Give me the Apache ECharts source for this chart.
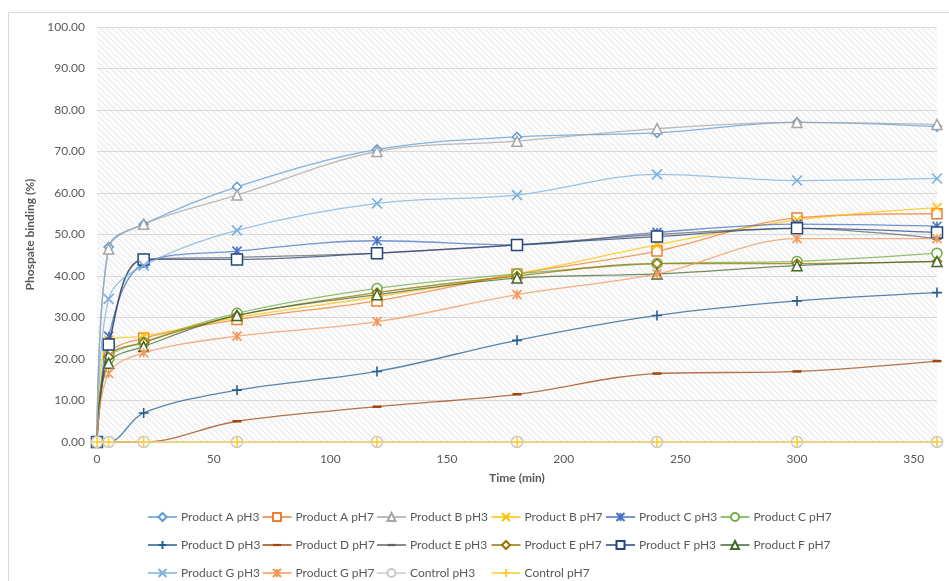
<!DOCTYPE html>
<html>
<head>
<meta charset="utf-8">
<style>
  html, body { margin: 0; padding: 0; background: #ffffff; }
  #chart { width: 949px; height: 581px; }
</style>
<script src="https://cdn.jsdelivr.net/npm/echarts@6/dist/echarts.min.js"></script>
</head>
<body>
<div id="chart"></div>
<script>
// Sampling times (min)
const times = [0, 5, 20, 60, 120, 180, 240, 300, 360];

// Phosphate binding (%) per product and pH
const productA_pH3 = [0, 47.0, 52.5, 61.5, 70.5, 73.5, 74.5, 77.0, 76.0];
const productA_pH7 = [0, 21.0, 25.0, 29.5, 34.0, 40.5, 46.0, 54.0, 55.0];
const productB_pH3 = [0, 46.5, 52.5, 59.5, 70.0, 72.5, 75.5, 77.0, 76.5];
const productB_pH7 = [0, 24.5, 25.5, 30.0, 35.0, 40.5, 47.5, 53.5, 56.5];
const productC_pH3 = [0, 25.5, 43.0, 46.0, 48.5, 47.5, 50.5, 52.5, 52.0];
const productC_pH7 = [0, 20.0, 24.0, 31.0, 37.0, 40.5, 43.0, 43.5, 45.5];
const productD_pH3 = [0, 0.0, 7.0, 12.5, 17.0, 24.5, 30.5, 34.0, 36.0];
const productD_pH7 = [0, 0.0, 0.0, 5.0, 8.5, 11.5, 16.5, 17.0, 19.5];
const productE_pH3 = [0, 23.0, 44.0, 44.5, 45.5, 47.5, 50.0, 51.5, 49.0];
const productE_pH7 = [0, 20.5, 24.0, 30.5, 36.0, 40.0, 43.0, 43.0, 43.5];
const productF_pH3 = [0, 23.5, 44.0, 44.0, 45.5, 47.5, 49.5, 51.5, 50.5];
const productF_pH7 = [0, 19.0, 23.0, 30.5, 35.5, 39.5, 40.5, 42.5, 43.5];
const productG_pH3 = [0, 34.5, 42.5, 51.0, 57.5, 59.5, 64.5, 63.0, 63.5];
const productG_pH7 = [0, 16.5, 21.5, 25.5, 29.0, 35.5, 40.5, 49.0, 49.0];
const control_pH3  = [0, 0, 0, 0, 0, 0, 0, 0, 0];
const control_pH7  = [0, 0, 0, 0, 0, 0, 0, 0, 0];

const seriesNames = [
  'Product A pH3', 'Product A pH7', 'Product B pH3', 'Product B pH7',
  'Product C pH3', 'Product C pH7', 'Product D pH3', 'Product D pH7',
  'Product E pH3', 'Product E pH7', 'Product F pH3', 'Product F pH7',
  'Product G pH3', 'Product G pH7', 'Control pH3', 'Control pH7'
];
const seriesValues = [
  productA_pH3, productA_pH7, productB_pH3, productB_pH7,
  productC_pH3, productC_pH7, productD_pH3, productD_pH7,
  productE_pH3, productE_pH7, productF_pH3, productF_pH7,
  productG_pH3, productG_pH7, control_pH3, control_pH7
];

// Marker glyphs (the dash keeps a square bounding box via bare move-to points)
const SYM = {
  cross: 'path://M0,0L10,10M10,0L0,10',
  star: 'path://M0,0L10,10M10,0L0,10M5,0L5,10',
  plus: 'path://M5,0L5,10M0,5L10,5',
  dash: 'path://M0,0M10,10M0,3.6L10,3.6L10,6.4L0,6.4Z'
};

// Style per series: colour, marker, size, open/filled marker
const styles = [
  { c: '#5B9BD5', s: 'diamond',  z: 9 },
  { c: '#ED7D31', s: 'rect',     z: 10 },
  { c: '#A5A5A5', s: 'triangle', z: 10 },
  { c: '#FFC000', s: SYM.cross,  z: 9, open: true },
  { c: '#4472C4', s: SYM.star,   z: 9, open: true },
  { c: '#70AD47', s: 'circle',   z: 10 },
  { c: '#255E91', s: SYM.plus,   z: 10, open: true },
  { c: '#9E480E', s: SYM.dash,   z: 9, fill: true },
  { c: '#636363', s: SYM.dash,   z: 9, fill: true },
  { c: '#997300', s: 'diamond',  z: 9 },
  { c: '#264478', s: 'rect',     z: 11 },
  { c: '#43682B', s: 'triangle', z: 10 },
  { c: '#7CAFDD', s: SYM.cross,  z: 10, open: true },
  { c: '#F1975A', s: SYM.star,   z: 9, open: true },
  { c: '#C9C9C9', s: 'circle',   z: 11 },
  { c: '#FFCD33', s: SYM.plus,   z: 10, open: true }
];

// Diagonal hatch fill for the plot area
function hatch() {
  const cv = document.createElement('canvas');
  cv.width = 6; cv.height = 6;
  const g = cv.getContext('2d');
  g.fillStyle = '#fbfbfb';
  g.fillRect(0, 0, 6, 6);
  g.strokeStyle = '#e7e7e7';
  g.lineWidth = 1;
  g.beginPath();
  g.moveTo(-1, -1); g.lineTo(7, 7);
  g.moveTo(-1, 5); g.lineTo(1, 7);
  g.moveTo(5, -1); g.lineTo(7, 1);
  g.stroke();
  return cv;
}

const series = seriesNames.map((name, i) => {
  const st = styles[i];
  return {
    name: name,
    type: 'line',
    smooth: 0.35,
    data: times.map((t, k) => [t, seriesValues[i][k]]),
    symbol: st.s,
    symbolSize: st.z,
    showAllSymbol: true,
    lineStyle: { color: st.c, width: 1.3, opacity: 0.75 },
    itemStyle: {
      color: st.fill ? st.c : '#ffffff',
      borderColor: st.c,
      borderWidth: st.fill ? 0 : (st.open ? 1.6 : 1.5)
    },
    emphasis: { disabled: true },
    z: 2 + i
  };
});

const textColor = '#595959';
const font = 'Lato, "Open Sans", sans-serif';

// Legend laid out in aligned columns, three rows
const colLeft = [147, 261.5, 376, 490.5, 605, 719.5];
const legends = colLeft.map((x, col) => {
  const names = [];
  for (let r = 0; r < 3; r++) {
    const idx = r * 6 + col;
    if (idx < seriesNames.length) names.push(seriesNames[idx]);
  }
  return {
    orient: 'vertical',
    left: x,
    top: 511,
    itemWidth: 29,
    itemHeight: 10,
    itemGap: 16,
    padding: 0,
    selectedMode: false,
    data: names,
    textStyle: { color: textColor, fontSize: 12, fontFamily: font, padding: [0, 0, 0, -1] }
  };
});

const chart = echarts.init(document.getElementById('chart'), null, { renderer: 'canvas' });
chart.setOption({
  backgroundColor: '#ffffff',
  animation: false,
  textStyle: { fontFamily: font },
  graphic: [{
    type: 'rect',
    shape: { x: 8.5, y: 12.5, width: 945, height: 575 },
    style: { fill: 'none', stroke: '#D9D9D9', lineWidth: 1 },
    silent: true,
    z: -10
  }],
  grid: {
    left: 97, right: 12, top: 27, bottom: 139,
    show: true,
    borderWidth: 0,
    backgroundColor: { image: hatch(), repeat: 'repeat' }
  },
  xAxis: {
    type: 'value',
    min: 0, max: 360, interval: 50,
    name: 'Time (min)',
    nameLocation: 'middle',
    nameGap: 30,
    nameTextStyle: { color: textColor, fontSize: 12, fontWeight: 'bold', fontFamily: font },
    axisLine: { show: true, lineStyle: { color: '#D9D9D9' } },
    axisTick: { show: false },
    splitLine: { show: false },
    axisLabel: { color: textColor, fontSize: 12, margin: 11, showMaxLabel: false, fontFamily: font }
  },
  yAxis: {
    type: 'value',
    min: 0, max: 100, interval: 10,
    name: 'Phospate binding (%)',
    nameLocation: 'middle',
    nameGap: 55,
    nameTextStyle: { color: textColor, fontSize: 12, fontWeight: 'bold', fontFamily: font },
    axisLine: { show: false },
    axisTick: { show: false },
    splitLine: { lineStyle: { color: '#D9D9D9', width: 1 } },
    axisLabel: {
      color: textColor, fontSize: 12, margin: 12, fontFamily: font,
      formatter: v => v.toFixed(2)
    }
  },
  legend: legends,
  series: series
});
</script>
</body>
</html>
